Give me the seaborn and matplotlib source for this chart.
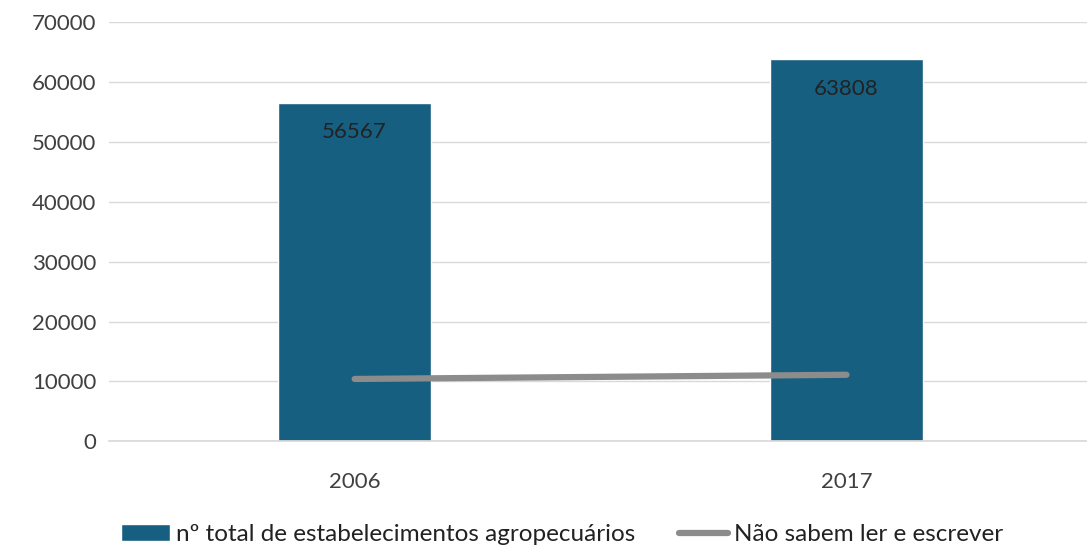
import matplotlib
matplotlib.use("Agg")
import matplotlib.pyplot as plt
import seaborn as sns
import pandas as pd
from matplotlib.patches import Patch
from matplotlib.lines import Line2D

years = ["2006", "2017"]
total_estab = [56567, 63808]
nao_sabem = [10400, 11100]
bar_label = "nº total de estabelecimentos agropecuários"
line_label = "Não sabem ler e escrever"
yticks = [0, 10000, 20000, 30000, 40000, 50000, 60000, 70000]

sns.set_theme(style="white")
plt.rcParams['font.family'] = ['Lato', 'DejaVu Sans']

df = pd.DataFrame({"ano": years, "total": total_estab, "nao": nao_sabem})

fig = plt.figure(figsize=(10.87, 5.55), dpi=100)
ax = fig.add_axes([0.100, 0.205, 0.905, 0.755])

bar_color = "#175F80"
line_color = "#8C8C8C"

sns.barplot(data=df, x="ano", y="total", color=bar_color, width=0.31,
            saturation=1, ax=ax, zorder=2)
sns.lineplot(x=[0, 1], y=df["nao"], color=line_color, linewidth=4.5, ax=ax,
             zorder=3)

for i, v in enumerate(total_estab):
    ax.text(i, v - 3300, str(v), ha="center", va="top", fontsize=16,
            color="#222222", zorder=4)

ax.set_xlim(-0.5, 1.5)
ax.set_ylim(0, 70000)
ax.set_yticks(yticks)
ax.set_yticklabels([str(t) for t in yticks], fontsize=16, color="#404040")
ax.tick_params(axis="x", labelsize=16, colors="#404040", pad=22, length=0)
ax.tick_params(axis="y", length=0, pad=9)
ax.set_xlabel("")
ax.set_ylabel("")
ax.yaxis.grid(True, color="#D9D9D9", linewidth=1, zorder=0)
ax.set_axisbelow(True)
for s in ["top", "right", "left"]:
    ax.spines[s].set_visible(False)
ax.spines["bottom"].set_color("#D9D9D9")

handles = [Patch(facecolor=bar_color, label=bar_label),
           Line2D([0], [0], color=line_color, linewidth=4.5, label=line_label)]
fig.legend(handles=handles, loc="lower center", bbox_to_anchor=(0.517, -0.022),
           ncol=2, frameon=False, fontsize=17.5, handlelength=2.0,
           handletextpad=0.25, columnspacing=1.8, labelcolor="#222222")

fig.savefig("out.png", dpi=100, facecolor="white")
